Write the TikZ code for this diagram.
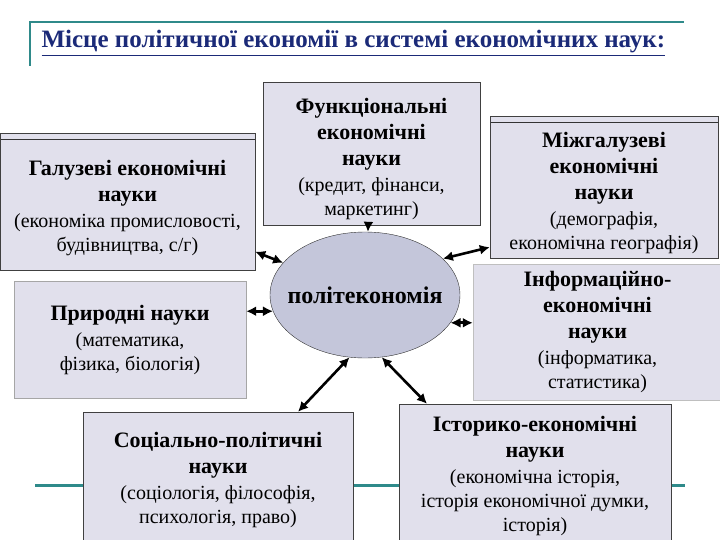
\documentclass[tikz,border=0pt]{standalone}
\usepackage{fontspec}
\setmainfont{Liberation Serif}
\usepackage{xcolor}
\usetikzlibrary{shapes.geometric}
\usetikzlibrary{arrows.meta}

\definecolor{boxfill}{HTML}{E1E0EC}
\definecolor{pefill}{HTML}{C4C6DA}
\definecolor{titleblue}{HTML}{1B2A78}
\definecolor{frameteal}{HTML}{2F8A8A}

\newcommand{\hd}[1]{{\fontsize{22}{26}\selectfont\bfseries #1}}

\begin{document}
\begin{tikzpicture}[x=1pt, y=-1pt, >={Latex[length=10pt,width=10pt]},
  scibox/.style={draw=black!75, fill=boxfill, align=center, inner sep=0pt, font=\fontsize{20}{24}\selectfont},
  topstrip/.style={path picture={\draw[black!80] ([yshift=-6pt]path picture bounding box.north west) -- ([yshift=-6pt]path picture bounding box.north east);}},
  link/.style={<->, line width=2.6pt}]

\useasboundingbox (0,0) rectangle (720,540);
\clip (0,0) rectangle (720,540);

% frame lines
\draw[frameteal, line width=1.6pt] (30,66) -- (30,22) -- (684,22);
\draw[frameteal, line width=3pt] (35,485) -- (685,485);

\node (title) [anchor=base west, text=titleblue, font=\fontsize{25}{29}\selectfont\bfseries] at (38,48) {\underline{Місце політичної економії в системі економічних наук:}};

\node (galuz) [scibox, topstrip, minimum width=255pt, minimum height=137pt] at (127.5,201.5) {\rule{0pt}{28pt}\hd{Галузеві економічні}\\[2pt]\hd{науки}\\[2pt](економіка промисловості,\\будівництва, с/г)};
\node (funk) [scibox, minimum width=217pt, minimum height=143pt] at (371.5,153.5) {\rule{0pt}{26pt}\hd{Функціональні}\\[2pt]\hd{економічні}\\[2pt]\hd{науки}\\[2pt](кредит, фінанси,\\маркетинг)};
\node (mizh) [scibox, topstrip, minimum width=228pt, minimum height=142pt] at (604,187) {\rule{0pt}{28pt}\hd{Міжгалузеві}\\[2pt]\hd{економічні}\\[2pt]\hd{науки}\\[2pt](демографія,\\економічна географія)};
\node (pryrod) [scibox, draw=black!35, minimum width=232pt, minimum height=117pt] at (130,339.5) {\hd{Природні науки}\\[2pt](математика,\\фізика, біологія)};
\node (inform) [scibox, draw=black!25, minimum width=249pt, minimum height=136pt] at (597.5,332) {\hd{Інформаційно-}\\[2pt]\hd{економічні}\\[2pt]\hd{науки}\\[2pt](інформатика,\\статистика)};
\node (social) [scibox, minimum width=270pt, minimum height=136pt] at (218,480) {\hd{Соціально-політичні}\\[2pt]\hd{науки}\\[2pt](соціологія, філософія,\\психологія, право)};
\node (istor) [scibox, minimum width=272pt, minimum height=144pt] at (535,476) {\hd{Історико-економічні}\\[2pt]\hd{науки}\\[2pt](економічна історія,\\історія економічної думки,\\історія)};

\node (pe) [ellipse, draw=black!80, fill=pefill, inner sep=0pt, minimum width=190pt, minimum height=126pt, font=\fontsize{24}{28}\selectfont\bfseries] at (365,295) {\makebox[130pt]{\raisebox{-3pt}{політекономія}}};

% links
\draw[link] (galuz) -- (pe);
\draw[->, line width=2pt] (funk) -- (pe);
\draw[link] (pe.25) -- ([yshift=11pt]mizh.south west);
\draw[link] (pe.190) -- (pryrod.east |- pe.190);
\draw[link] (pe.-18) -- (inform.west |- pe.-18);
\draw[link] (pe.-104) -- ([xshift=80pt]social.north);
\draw[link] (pe.-75) -- ([xshift=-108pt]istor.north);

\end{tikzpicture}
\end{document}
